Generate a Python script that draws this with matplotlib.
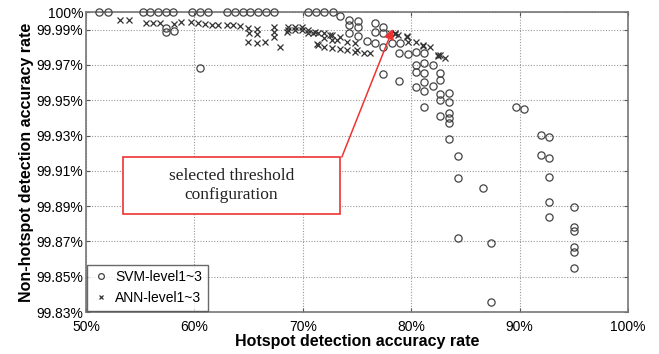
import matplotlib
matplotlib.use("Agg")
import matplotlib.pyplot as plt
from matplotlib.patches import Rectangle

# SVM-level1~3 (open circles): hotspot accuracy %, non-hotspot accuracy %
svm_x = [51.2, 52.0, 55.3, 55.9, 56.6, 57.4, 58.0, 59.8, 60.5, 61.3, 63.0, 63.7,
         64.5, 65.1, 65.9, 66.6, 67.3, 70.5, 71.2, 72.0, 72.8,
         57.4, 57.4, 58.1, 60.5, 73.4, 74.3, 74.3, 75.1, 75.1, 76.7, 77.4,
         74.3, 75.1, 76.7, 77.4, 75.9, 76.7, 77.4, 78.2, 79.0,
         78.9, 79.7, 80.4, 81.2, 80.4, 81.2, 82.0, 80.4, 81.2, 82.7,
         77.4, 78.9, 82.7, 81.2, 80.4, 82.0, 81.2, 82.7, 83.5, 82.7, 83.5,
         81.2, 82.7, 83.5, 83.5, 83.5, 83.5, 84.3, 84.3, 86.6,
         89.7, 90.4, 92.0, 92.7, 92.0, 92.7, 92.7, 92.7, 95.0, 92.7,
         95.0, 95.0, 84.3, 87.4, 95.0, 95.0, 95.0, 87.4]
svm_y = [100.0, 100.0, 100.0, 100.0, 100.0, 100.0, 100.0, 100.0, 100.0, 100.0, 100.0, 100.0,
         100.0, 100.0, 100.0, 100.0, 100.0, 100.0, 100.0, 100.0, 100.0,
         99.9909, 99.9887, 99.9892, 99.9683, 99.9977, 99.9955, 99.9927, 99.9949, 99.9915, 99.9938, 99.9915,
         99.9881, 99.9864, 99.9887, 99.9881, 99.9836, 99.9824, 99.9802, 99.9824, 99.9824,
         99.9768, 99.9762, 99.9773, 99.9768, 99.9700, 99.9711, 99.9700, 99.9660, 99.9654, 99.9654,
         99.9649, 99.9609, 99.9615, 99.9603, 99.9575, 99.9581, 99.9552, 99.9535, 99.9541, 99.9501, 99.9490,
         99.9462, 99.9411, 99.9428, 99.9399, 99.9371, 99.9280, 99.9184, 99.9059, 99.9003,
         99.9462, 99.9450, 99.9303, 99.9292, 99.9190, 99.9173, 99.9065, 99.8924, 99.8895, 99.8839,
         99.8782, 99.8759, 99.8720, 99.8691, 99.8669, 99.8640, 99.8550, 99.8357]

# ANN-level1~3 (crosses)
ann_x = [53.1, 54.0, 55.5, 56.2, 56.8, 58.1, 58.8, 59.7, 60.3, 61.0, 61.6, 62.2,
         63.0, 63.6, 64.2, 64.9, 65.8, 65.0, 65.8, 64.9, 65.8, 66.5, 67.3, 67.3,
         67.3, 67.9, 68.6, 68.6, 69.3, 69.3, 69.9, 69.9, 70.5, 70.5, 71.1, 71.4,
         72.0, 72.7, 72.0, 72.7, 73.2, 71.4, 72.0, 72.7, 73.4, 74.1, 74.8, 75.6,
         76.2, 74.1, 74.8, 73.4, 72.5, 78.0, 78.5, 78.8, 79.6, 79.7, 80.4, 81.1,
         81.7, 82.5, 83.1, 82.7, 68.5, 70.9, 71.3, 75.0, 78.5, 79.6, 81.1, 82.5]
ann_y = [99.9955, 99.9955, 99.9938, 99.9938, 99.9938, 99.9932, 99.9943, 99.9943, 99.9938, 99.9932, 99.9926, 99.9926,
         99.9926, 99.9926, 99.9921, 99.9909, 99.9904, 99.9881, 99.9875, 99.9830, 99.9824, 99.9830, 99.9858, 99.9915,
         99.9887, 99.9802, 99.9915, 99.9898, 99.9898, 99.9915, 99.9898, 99.9915, 99.9898, 99.9881, 99.9887, 99.9881,
         99.9881, 99.9870, 99.9853, 99.9841, 99.9841, 99.9813, 99.9802, 99.9796, 99.9790, 99.9785, 99.9773, 99.9768,
         99.9768, 99.9830, 99.9824, 99.9858, 99.9870, 99.9881, 99.9881, 99.9870, 99.9858, 99.9830, 99.9830, 99.9813,
         99.9802, 99.9756, 99.9739, 99.9756, 99.9887, 99.9881, 99.9819, 99.9785, 99.9876, 99.9862, 99.9808, 99.9750]

x_ticks = [50, 60, 70, 80, 90, 100]
y_ticks = [99.83, 99.85, 99.87, 99.89, 99.91, 99.93, 99.95, 99.97, 99.99, 100.0]
y_labels = ["99.83%", "99.85%", "99.87%", "99.89%", "99.91%", "99.93%",
            "99.95%", "99.97%", "99.99%", "100%"]

plt.rcParams["font.family"] = ["Liberation Sans", "DejaVu Sans"]

fig = plt.figure(figsize=(6.59, 3.54), dpi=100)
ax = fig.add_axes([86 / 659, 1 - 312 / 354, 542 / 659, 300 / 354])

ax.plot(svm_x, svm_y, linestyle="none", marker="o", markersize=5.2,
        markerfacecolor="none", markeredgecolor="#444444", markeredgewidth=0.9,
        label="SVM-level1~3", clip_on=False, zorder=3)
ax.plot(ann_x, ann_y, linestyle="none", marker="x", markersize=4,
        color="#333333", markeredgewidth=0.9, label="ANN-level1~3", zorder=3)

ax.set_xlim(50, 100)
ax.set_ylim(99.83, 100.0)
ax.set_xticks(x_ticks)
ax.set_xticklabels([f"{v}%" for v in x_ticks])
ax.set_yticks(y_ticks)
ax.set_yticklabels(y_labels)
ax.tick_params(direction="in", length=3, labelsize=10, top=True, right=True,
               color="#555555", pad=2)
ax.tick_params(axis="x", pad=6)
ax.grid(True, linestyle=(0, (1, 1.5)), color="#999999", linewidth=0.8)
for s in ax.spines.values():
    s.set_color("#777777")
    s.set_linewidth(1.2)

ax.set_xlabel("Hotspot detection accuracy rate", fontsize=11.5, fontweight="bold", labelpad=0)
ax.set_ylabel("Non-hotspot detection accuracy rate", fontsize=11.5, fontweight="bold", labelpad=2)

leg = ax.legend(loc="lower left", fontsize=10, frameon=True, fancybox=False,
                borderaxespad=0.1, handletextpad=0.4, handlelength=1.2,
                borderpad=0.4, labelspacing=0.5, markerscale=0.8)
leg.get_frame().set_edgecolor("#444444")
leg.get_frame().set_linewidth(1.0)

# annotation box and arrow
ax.add_patch(Rectangle((0.068, 0.327), 0.401, 0.19, transform=ax.transAxes,
                       fill=True, facecolor="white", edgecolor="#ee3333",
                       linewidth=1.2, zorder=4))
ax.text(0.268, 0.422, "selected threshold\nconfiguration", transform=ax.transAxes,
        ha="center", va="center", fontsize=12.5, family="Liberation Serif",
        color="#222222", linespacing=1.25, zorder=5)
ax.annotate("", xy=(78.3, 99.9904), xytext=(73.6, 99.9178),
            arrowprops=dict(arrowstyle="-|>", color="#ee3333", lw=1.1,
                            mutation_scale=15, shrinkA=0, shrinkB=0), zorder=5)

fig.savefig("out.png", dpi=100, facecolor="white")
